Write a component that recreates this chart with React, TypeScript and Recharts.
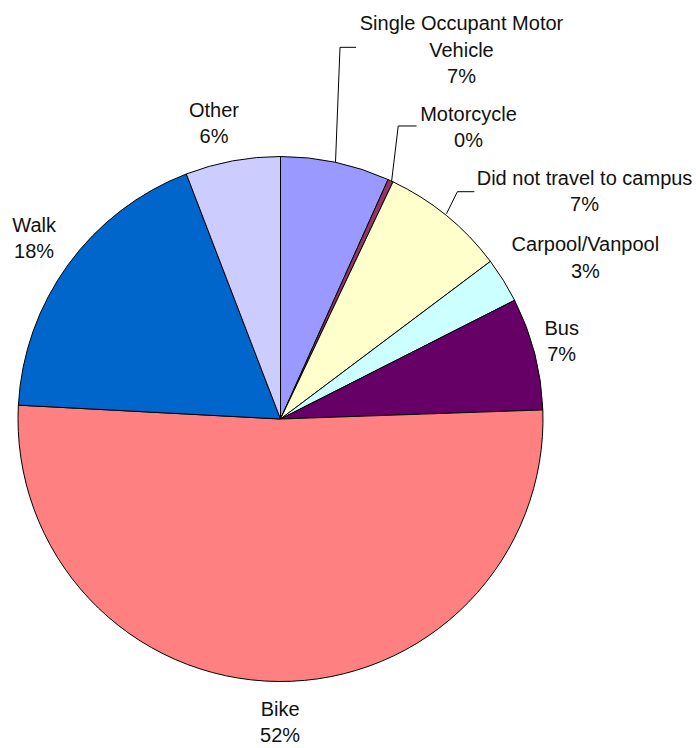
import { Cell, Pie, PieChart } from "recharts";

const MODES = [
  "Single Occupant Motor Vehicle",
  "Motorcycle",
  "Did not travel to campus",
  "Carpool/Vanpool",
  "Bus",
  "Bike",
  "Walk",
  "Other",
];
const SHARES = [6.72, 0.33, 7.7, 2.78, 6.92, 51.39, 18.32, 5.84];
const SHARE_LABELS = ["7%", "0%", "7%", "3%", "7%", "52%", "18%", "6%"];
const LABEL_LINES = [
  ["Single Occupant Motor", "Vehicle"],
  ["Motorcycle"],
  ["Did not travel to campus"],
  ["Carpool/Vanpool"],
  ["Bus"],
  ["Bike"],
  ["Walk"],
  ["Other"],
];

const COLORS = [
  "#9999FF",
  "#993366",
  "#FFFFCC",
  "#CCFFFF",
  "#660066",
  "#FF8080",
  "#0066CC",
  "#CCCCFF",
];

// label placement, relative to the slice's outer edge point at its mid angle
const LABEL_OFFSETS: { tx: number; ty: number; leader?: [number, number][] }[] = [
  { tx: 126, ty: -132, leader: [[0, 0], [4.5, -115], [20.5, -115]] },
  { tx: 78, ty: -60, leader: [[1, 1], [7.7, -54.7], [26, -54.7]] },
  { tx: 138, ty: -31, leader: [[0, -2], [10.8, -24], [27.8, -24]] },
  { tx: 82, ty: -29 },
  { tx: 27, ty: -19 },
  { tx: 2, ty: 34.5 },
  { tx: -34, ty: -33 },
  { tx: -18.6, ty: -44 },
];

const data = MODES.map((name, i) => ({ name, value: SHARES[i] }));

const FONT = "'Liberation Sans', Arial, sans-serif";
const RAD = Math.PI / 180;

function renderLabel(props: any) {
  const { cx, cy, midAngle, outerRadius, index } = props;
  const ex = cx + outerRadius * Math.cos(-midAngle * RAD);
  const ey = cy + outerRadius * Math.sin(-midAngle * RAD);
  const o = LABEL_OFFSETS[index];
  const lines = [...LABEL_LINES[index], SHARE_LABELS[index]];
  return (
    <g key={`lbl-${index}`}>
      {o.leader && (
        <polyline
          points={o.leader.map(([dx, dy]) => `${ex + dx},${ey + dy}`).join(" ")}
          fill="none"
          stroke="#000"
          strokeWidth={1}
        />
      )}
      <text
        x={ex + o.tx}
        y={ey + o.ty}
        textAnchor="middle"
        fontFamily={FONT}
        fontSize={20}
        fill="#111"
      >
        {lines.map((line, j) => (
          <tspan key={j} x={ex + o.tx} dy={j === 0 ? 0 : 26.5}>
            {line}
          </tspan>
        ))}
      </text>
    </g>
  );
}

export default function App() {
  return (
    <div style={{ position: "absolute", left: 0, top: 0, background: "#fff" }}>
      <PieChart width={696} height={748} margin={{ top: 0, right: 0, bottom: 0, left: 0 }}>
        <Pie
          data={data}
          dataKey="value"
          nameKey="name"
          cx={280.5}
          cy={419}
          outerRadius={262.5}
          startAngle={90}
          endAngle={-270}
          stroke="#000"
          strokeWidth={1}
          label={renderLabel}
          labelLine={false}
          isAnimationActive={false}
        >
          {data.map((d, i) => (
            <Cell key={d.name} fill={COLORS[i]} />
          ))}
        </Pie>
      </PieChart>
    </div>
  );
}
